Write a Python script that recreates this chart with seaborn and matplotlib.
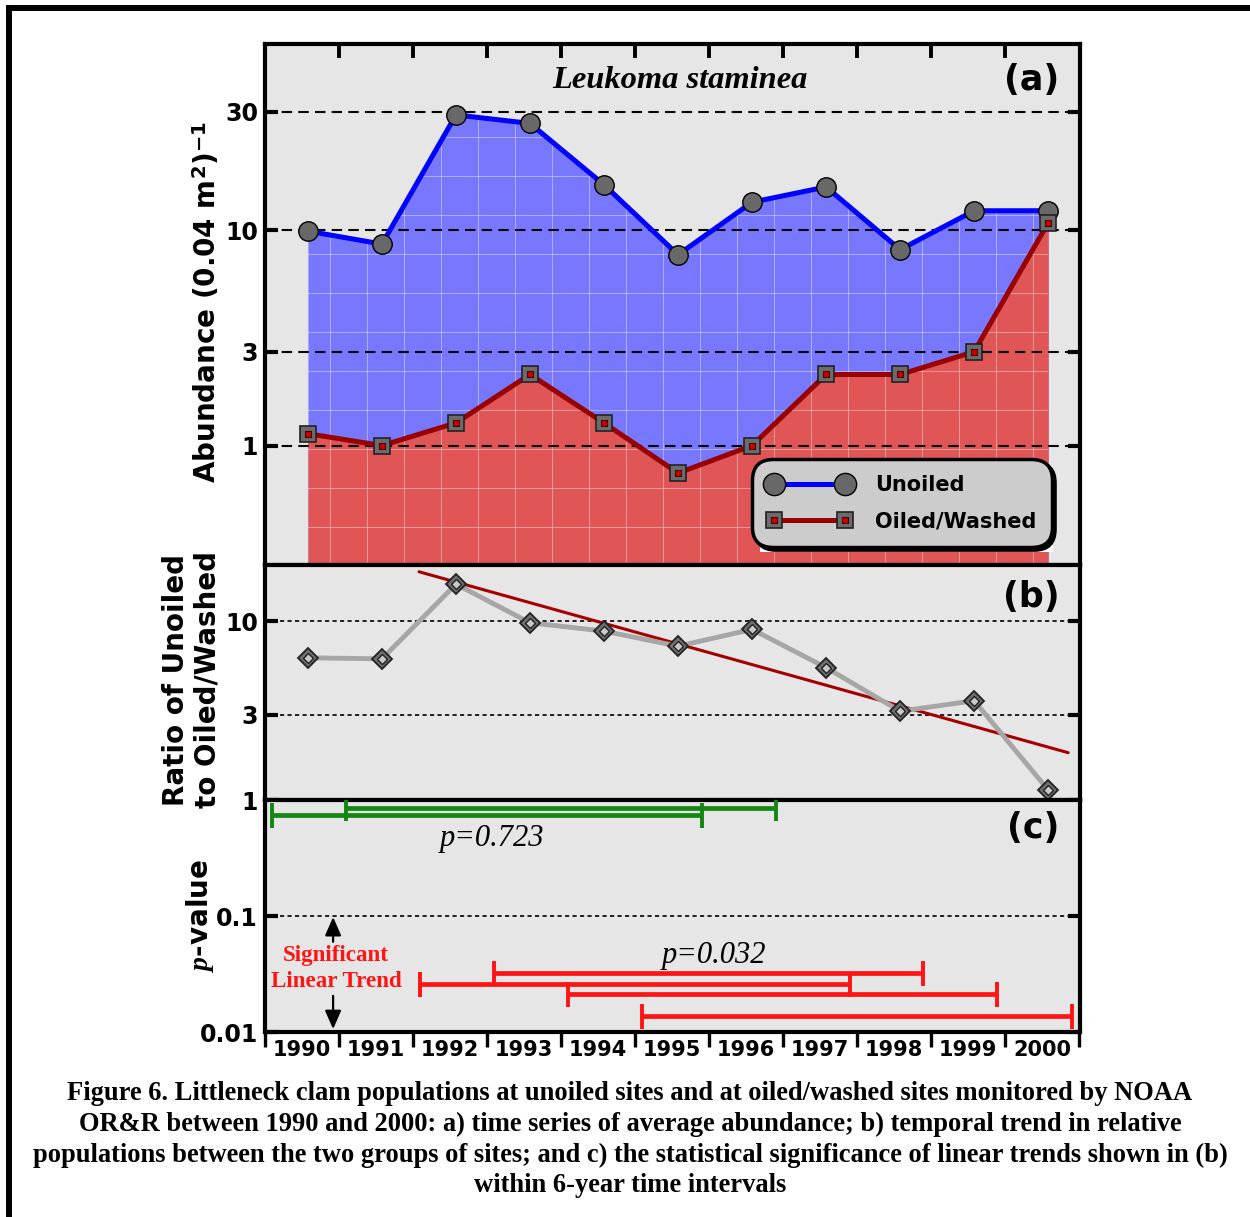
import numpy as np
import seaborn as sns
import matplotlib.pyplot as plt
from matplotlib.collections import LineCollection
from matplotlib.legend_handler import HandlerTuple
from matplotlib.lines import Line2D
from matplotlib.patches import Rectangle

# 1. Datos
years = np.arange(1990, 2001)
unoiled = [9.9, 8.75, 29.2, 27.0, 15.3, 7.9, 13.0, 15.0, 8.3, 12.0, 12.0]
oiled = [1.17, 1.0, 1.34, 2.35, 1.34, 0.67, 1.0, 2.35, 2.35, 3.0, 10.7]
ratio = [6.24, 6.16, 16.1, 9.8, 8.8, 7.25, 9.0, 5.5, 3.14, 3.59, 1.14]
trend_x = [1991.5, 2000.27]
trend_y = [18.9, 1.84]

# intervalos de 6 años del panel (c)
int_start = [1989.51, 1990.51, 1991.51, 1992.51, 1993.51, 1994.51]
int_end = [1995.32, 1996.32, 1997.32, 1998.31, 1999.31, 2000.32]
int_p = [0.75, 0.85, 0.0258, 0.0324, 0.0211, 0.0137]

year_labels = [str(y) for y in years]
caption = [
    "Figure 6. Littleneck clam populations at unoiled sites and at oiled/washed sites monitored by NOAA",
    "OR&R between 1990 and 2000: a) time series of average abundance; b) temporal trend in relative",
    "populations between the two groups of sites; and c) the statistical significance of linear trends shown in (b)",
    "within 6-year time intervals",
]

# 2. Estilo
sns.set_style("ticks")
plt.rcParams['font.family'] = ['DejaVu Sans']
plt.rcParams['font.weight'] = 'bold'
plt.rcParams['mathtext.fontset'] = 'custom'
plt.rcParams['mathtext.rm'] = 'DejaVu Sans:bold'
plt.rcParams['mathtext.it'] = 'Liberation Serif:italic:bold'
for k in ('text.color', 'axes.labelcolor', 'xtick.color', 'ytick.color',
          'xtick.labelcolor', 'ytick.labelcolor'):
    plt.rcParams[k] = 'black'

bg = '#E6E6E6'
xlim = (1989.42, 2000.43)
bordes = np.arange(1989.42, 2000.5, 1.0)

fig = plt.figure(figsize=(12.5, 12.17), dpi=100)
ax_a = fig.add_axes([0.212, 0.5357, 0.652, 0.4281])
ax_b = fig.add_axes([0.212, 0.3426, 0.652, 0.1931])
ax_c = fig.add_axes([0.212, 0.1520, 0.652, 0.1906])

for ax in (ax_a, ax_b, ax_c):
    ax.set_facecolor(bg)
    ax.set_xlim(*xlim)
    for s in ax.spines.values():
        s.set_linewidth(3)
        s.set_color('black')
        s.set_visible(True)
    ax.tick_params(axis='y', which='major', left=True, right=True, direction='in',
                   length=9, width=3, labelsize=17, pad=5)
    ax.set_axisbelow(False)


def textura(ax, coll, z):
    # rejilla blanca tenue dentro del relleno
    segs = [[(x, 0), (x, 1)] for x in np.arange(0.08, 1, 0.0454)]
    segs += [[(0, y), (1, y)] for y in np.arange(0.073, 1, 0.0749)]
    lc = LineCollection(segs, colors='white', linewidths=0.7, alpha=0.4,
                        transform=ax.transAxes, zorder=z)
    ax.add_collection(lc, autolim=False)
    lc.set_clip_path(coll.get_paths()[0], coll.get_transform())


# 3. Panel (a): abundancia
ax_a.set_yscale('function', functions=(lambda v: np.log10(np.asarray(v) + 0.5),
                                       lambda v: 10 ** np.asarray(v) - 0.5))
ax_a.set_ylim(0.01, 55.8)
ax_a.set_yticks([1, 3, 10, 30], labels=['1', '3', '10', '30'])
ax_a.yaxis.set_minor_locator(plt.NullLocator())
ax_a.grid(axis='y', color='black', ls=(0, (5, 3)), lw=1.5)

f_blue = ax_a.fill_between(years, 0, unoiled, color='#7878FF', lw=0, zorder=1)
textura(ax_a, f_blue, 1.1)
f_red = ax_a.fill_between(years, 0, oiled, color='#E05555', lw=0, zorder=1.2)
textura(ax_a, f_red, 1.3)

sns.lineplot(x=years, y=unoiled, ax=ax_a, color='#0000FF', lw=3.6, marker='o',
             markersize=14, markerfacecolor='#686868', markeredgecolor='black',
             markeredgewidth=1, zorder=4)
sns.lineplot(x=years, y=oiled, ax=ax_a, color='#990000', lw=3.6, marker='s',
             markersize=11, markerfacecolor='#6B6B6B', markeredgecolor='#222222',
             markeredgewidth=1.2, zorder=4)
ax_a.plot(years, oiled, ls='none', marker='s', ms=4.5, mfc='#CC0000', mec='#440000',
          mew=0.8, zorder=4.5)

ax_a.set_xticks(bordes[1:-1])
ax_a.tick_params(axis='x', which='both', top=True, bottom=False, direction='in',
                 length=10, width=2.8, labelbottom=False, labeltop=False)
ax_a.set_xlabel('')
ax_a.set_ylabel('')
ax_a.text(0.509, 0.931, 'Leukoma staminea', transform=ax_a.transAxes, ha='center',
          va='center', fontsize=23.4, family='Liberation Serif', style='italic',
          weight='bold')
ax_a.text(0.975, 0.931, '(a)', transform=ax_a.transAxes, ha='right', va='center',
          fontsize=25, weight='bold')

# leyenda con sombra
ax_a.add_patch(Rectangle((0.607, 0.025), 0.36, 0.167, transform=ax_a.transAxes,
                         facecolor='white', edgecolor='none', zorder=4.8))
h1 = Line2D([], [], color='#0000FF', lw=3.6, marker='o', ms=16, mfc='#686868',
            mec='black', mew=1)
h2o = Line2D([], [], color='#990000', lw=3.6, marker='s', ms=12, mfc='#6B6B6B',
             mec='#222222', mew=1.2)
h2i = Line2D([], [], ls='none', marker='s', ms=5, mfc='#CC0000', mec='#440000', mew=0.8)
leg = ax_a.legend([h1, (h2o, h2i)], ['Unoiled', 'Oiled/Washed'],
                  handler_map={tuple: HandlerTuple(ndivide=1)}, numpoints=2,
                  loc='lower left', bbox_to_anchor=(0.598, 0.034), borderaxespad=0,
                  fontsize=15, handlelength=4.0, handletextpad=1.15, borderpad=0.75,
                  labelspacing=0.8, fancybox=True, framealpha=1,
                  shadow={'color': 'black', 'alpha': 1})
frame = leg.get_frame()
frame.set_facecolor('#CCCCCC')
frame.set_edgecolor('black')
frame.set_linewidth(2.5)
frame.set_boxstyle('round', pad=0, rounding_size=1.0)
leg.set_zorder(5)

# 4. Panel (b): razon
ax_b.set_yscale('log')
ax_b.set_ylim(1, 20.6)
ax_b.set_yticks([1, 3, 10], labels=['1', '3', '10'])
ax_b.yaxis.set_minor_locator(plt.NullLocator())
ax_b.grid(axis='y', color='black', ls=(0, (2.5, 2)), lw=1.2)
sns.lineplot(x=trend_x, y=trend_y, ax=ax_b, color='#A50000', lw=2.2, zorder=3)
sns.lineplot(x=years, y=ratio, ax=ax_b, color='#A6A6A6', lw=3.5, marker='D',
             markersize=10.5, markerfacecolor='#6E6E6E', markeredgecolor='#222222',
             markeredgewidth=1.3, zorder=4)
ax_b.plot(years, ratio, ls='none', marker='D', ms=4.8, mfc='#C8C8C8', mec='#222222',
          mew=1, zorder=4.5)
ax_b.set_xticks([])
ax_b.set_xlabel('')
ax_b.set_ylabel('')
ax_b.text(0.975, 0.864, '(b)', transform=ax_b.transAxes, ha='right', va='center',
          fontsize=25, weight='bold')

# 5. Panel (c): p-valores
ax_c.set_yscale('log')
ax_c.set_ylim(0.01, 1)
ax_c.set_yticks([0.01, 0.1], labels=['0.01', '0.1'])
ax_c.yaxis.set_minor_locator(plt.NullLocator())
ax_c.grid(axis='y', color='black', ls=(0, (2.5, 2)), lw=1.2)
for s, e, p in zip(int_start, int_end, int_p):
    col = '#138613' if p > 0.05 else '#FF1414'
    ax_c.errorbar((s + e) / 2, p, xerr=(e - s) / 2, fmt='none', ecolor=col,
                  elinewidth=3.4, capsize=9, capthick=2.8, zorder=3)
ax_c.text(1992.49, 0.47, 'p=0.723', ha='center', va='center', fontsize=22,
          family='Liberation Serif', style='italic', weight='normal')
ax_c.text(1995.49, 0.046, 'p=0.032', ha='center', va='center', fontsize=22,
          family='Liberation Serif', style='italic', weight='normal')
ax_c.text(1990.38, 0.046, 'Significant', ha='center', va='center', fontsize=16.6,
          family='Liberation Serif', weight='bold', color='#FF1414')
ax_c.text(1990.38, 0.027, 'Linear Trend', ha='center', va='center', fontsize=16.6,
          family='Liberation Serif', weight='bold', color='#FF1414')
flecha = dict(arrowstyle='-|>,head_length=0.8,head_width=0.35', color='black',
              lw=1.6, mutation_scale=14, shrinkA=0, shrinkB=0)
ax_c.annotate('', xy=(1990.34, 0.098), xytext=(1990.34, 0.06), arrowprops=flecha)
ax_c.annotate('', xy=(1990.34, 0.0106), xytext=(1990.34, 0.0205), arrowprops=flecha)
ax_c.text(0.975, 0.879, '(c)', transform=ax_c.transAxes, ha='right', va='center',
          fontsize=25, weight='bold')

ax_c.set_xticks(bordes)
ax_c.set_xticks(years - 0.08, labels=year_labels, minor=True)
ax_c.tick_params(axis='x', which='major', bottom=True, top=False, direction='out',
                 length=11, width=2.4, labelbottom=False)
ax_c.tick_params(axis='x', which='minor', bottom=True, length=0, labelsize=15, pad=6)
ax_c.set_xlabel('')
ax_c.set_ylabel('')

# 6. Etiquetas de ejes
fig.text(207 / 1250, 1 - 302 / 1217, r'Abundance (0.04 m$^2$)$^{-1}$', rotation=90,
         ha='center', va='center', fontsize=20, weight='bold')
fig.text(192 / 1250, 1 - 680 / 1217, 'Ratio of Unoiled\nto Oiled/Washed', rotation=90,
         ha='center', va='center', fontsize=20, weight='bold', linespacing=1.15)
fig.text(200 / 1250, 1 - 915 / 1217, r'$p$-value', rotation=90, ha='center',
         va='center', fontsize=20, weight='bold')

# 7. Pie de figura y marco
for i, linea in enumerate(caption):
    fig.text(630 / 1250, 1 - (1093 + 31 * i) / 1217, linea, ha='center', va='center',
             fontsize=19.1, family='Liberation Serif', weight='bold')

fig.add_artist(Line2D([0.0072, 1], [0.9934, 0.9934], lw=4.3, color='black',
                      transform=fig.transFigure, solid_capstyle='projecting'))
fig.add_artist(Line2D([0.0072, 0.0072], [0, 0.9934], lw=4.3, color='black',
                      transform=fig.transFigure, solid_capstyle='projecting'))

fig.savefig('out.png', dpi=100, facecolor='white')
